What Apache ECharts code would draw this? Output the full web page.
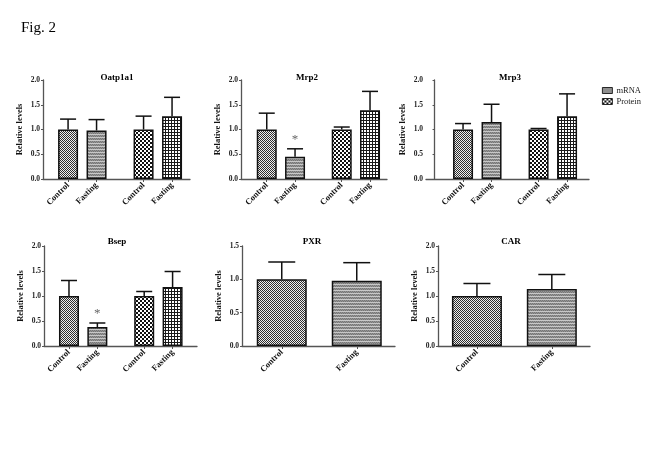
<!DOCTYPE html>
<html>
<head>
<meta charset="utf-8">
<script src="https://cdn.jsdelivr.net/npm/echarts@6/dist/echarts.min.js"></script>
<style>html,body{margin:0;padding:0;background:#fff}#c{width:650px;height:450px}</style>
</head>
<body>
<div id="c"></div>
<script>
// ---- data ----
const labels4 = ['Control', 'Fasting', 'Control', 'Fasting'];
const pos4 = [1, 2, 3.65, 4.65];
const labels2 = ['Control', 'Fasting'];
const pos2 = [1, 2];

const oatpMean = [1.00, 0.98, 1.00, 1.27];
const oatpErr  = [0.21, 0.22, 0.27, 0.38];
const mrp2Mean = [1.00, 0.45, 1.00, 1.39];
const mrp2Err  = [0.33, 0.16, 0.05, 0.38];
const mrp2Star = [0, 1, 0, 0];
const mrp3Mean = [1.00, 1.15, 1.00, 1.27];
const mrp3Err  = [0.12, 0.36, 0.02, 0.45];
const bsepMean = [1.00, 0.38, 1.00, 1.18];
const bsepErr  = [0.31, 0.08, 0.09, 0.31];
const bsepStar = [0, 1, 0, 0];
const pxrMean  = [1.00, 0.98];
const pxrErr   = [0.26, 0.27];
const carMean  = [1.00, 1.14];
const carErr   = [0.25, 0.29];
const noStar4 = [0, 0, 0, 0];
const noStar2 = [0, 0];

// ---- patterns ----
function pat(w, h, draw) {
  const c = document.createElement('canvas'); c.width = w; c.height = h;
  const g = c.getContext('2d'); draw(g); return { image: c, repeat: 'repeat' };
}
const pCtrlM = pat(2, 2, g => { g.fillStyle = '#eeeeee'; g.fillRect(0,0,2,2); g.fillStyle = '#2e2e2e'; g.fillRect(0,0,1,1); g.fillRect(1,1,1,1); });
const pFastM = pat(2, 3, g => { g.fillStyle = '#959595'; g.fillRect(0,0,2,3); g.fillStyle = '#767676'; g.fillRect(0,0,1,1); g.fillRect(1,1,1,1); g.fillStyle = '#c8c8c8'; g.fillRect(0,2,2,1); });
const pCtrlP = pat(4, 4, g => { g.fillStyle = '#fff'; g.fillRect(0,0,4,4); g.fillStyle = '#111'; g.fillRect(0,0,2,2); g.fillRect(2,2,2,2); });
const pFastP = pat(3, 3, g => { g.fillStyle = '#1a1a1a'; g.fillRect(0,0,3,3); g.fillStyle = '#fff'; g.fillRect(1,1,2,2); });

const FONT = 'Liberation Serif';
const panels = [
  { title: 'Oatp1a1', mean: oatpMean, err: oatpErr, star: noStar4, pos: pos4, labels: labels4, grid: [43, 80, 147, 99], min: 0.12, max: 5.28, ymax: 2, bw: 20, cap: 16, tx: 112, ty: 68 },
  { title: 'Mrp2', mean: mrp2Mean, err: mrp2Err, star: mrp2Star, pos: pos4, labels: labels4, grid: [241, 80, 146, 99], min: 0.09, max: 5.25, ymax: 2, bw: 20, cap: 16, tx: 302, ty: 68 },
  { title: 'Mrp3', mean: mrp3Mean, err: mrp3Err, star: noStar4, pos: pos4, labels: labels4, grid: [426, 80, 163, 99], min: -0.3, max: 5.42, ymax: 2, bw: 20, cap: 16, tx: 505, ty: 68 },
  { title: 'Bsep', mean: bsepMean, err: bsepErr, star: bsepStar, pos: pos4, labels: labels4, grid: [44, 246, 153, 100], min: 0.12, max: 5.51, ymax: 2, bw: 20, cap: 16, tx: 112, ty: 232 },
  { title: 'PXR', mean: pxrMean, err: pxrErr, star: noStar2, pos: pos2, labels: labels2, grid: [242, 246, 153, 100], min: 0.47, max: 2.51, ymax: 1.5, bw: 50, cap: 27, tx: 307, ty: 232 },
  { title: 'CAR', mean: carMean, err: carErr, star: noStar2, pos: pos2, labels: labels2, grid: [438, 246, 152, 100], min: 0.48, max: 2.51, ymax: 2, bw: 50, cap: 27, tx: 506, ty: 232 }
];

const option = {
  animation: false,
  backgroundColor: '#fff',
  title: [{ text: 'Fig. 2', left: 16, top: 16, textStyle: { fontFamily: FONT, fontSize: 15, fontWeight: 'normal', color: '#000' } }],
  legend: {
    data: ['mRNA', 'Protein'], orient: 'vertical', left: 597, top: 81, itemWidth: 10, itemHeight: 6, itemGap: 2,
    icon: 'rect',
    textStyle: { fontFamily: FONT, fontSize: 8.5, color: '#222', padding: [0, 0, 0, -1] },
    itemStyle: { borderColor: '#000', borderWidth: 0.8 }
  },
  grid: [], xAxis: [], yAxis: [], series: []
};

panels.forEach((p, i) => {
  option.title.push({ text: p.title, left: p.tx, top: p.ty, textAlign: 'center',
    textStyle: { fontFamily: FONT, fontSize: 9, fontWeight: 'bold', color: '#000' } });
  option.grid.push({ left: p.grid[0], top: p.grid[1], width: p.grid[2], height: p.grid[3] });
  const lab = {};
  p.pos.forEach((v, k) => lab[v] = p.labels[k]);
  option.xAxis.push({
    type: 'value', gridIndex: i, min: p.min, max: p.max,
    splitLine: { show: false },
    axisLine: { show: true, onZero: false, lineStyle: { color: '#555', width: 1.3 } },
    axisTick: { show: true, customValues: p.pos, length: 3, lineStyle: { color: '#555', width: 1 } },
    axisLabel: { customValues: p.pos, rotate: 45, margin: 5, formatter: v => lab[v] || '',
      fontFamily: FONT, fontSize: 8.5, fontWeight: 'bold', color: '#111' }
  });
  option.yAxis.push({
    type: 'value', gridIndex: i, min: 0, max: p.ymax, interval: 0.5,
    name: 'Relative levels', nameLocation: 'middle', nameGap: 19,
    nameTextStyle: { fontFamily: FONT, fontSize: 8.5, fontWeight: 'bold', color: '#111' },
    splitLine: { show: false },
    axisLine: { show: true, lineStyle: { color: '#555', width: 1.3 } },
    axisTick: { show: true, length: 2, lineStyle: { color: '#555' } },
    axisLabel: { formatter: v => v.toFixed(1), margin: 3, fontFamily: FONT, fontSize: 7.5, fontWeight: 'bold', color: '#222' }
  });
  const four = p.pos.length === 4;
  const mData = [], pData = [];
  p.pos.forEach((x, k) => {
    const isProt = four && k >= 2;
    const isFast = p.labels[k] === 'Fasting';
    const color = isProt ? (isFast ? pFastP : pCtrlP) : (isFast ? pFastM : pCtrlM);
    const item = { value: [x, p.mean[k]], itemStyle: { color: color } };
    (isProt ? pData : mData).push(item);
  });
  const bs = { borderColor: '#111', borderWidth: 1.5 };
  option.series.push({ type: 'bar', name: 'mRNA', xAxisIndex: i, yAxisIndex: i, barWidth: p.bw, barGap: '-100%', data: mData,
    itemStyle: Object.assign({ color: pCtrlM }, bs), z: 3 });
  if (four) option.series.push({ type: 'bar', name: 'Protein', xAxisIndex: i, yAxisIndex: i, barWidth: p.bw, barGap: '-100%', data: pData,
    itemStyle: Object.assign({ color: pCtrlP }, bs), z: 3 });
  option.series.push({
    type: 'custom', xAxisIndex: i, yAxisIndex: i, z: 2,
    data: p.pos.map((x, k) => [x, p.mean[k], p.err[k], p.star[k]]),
    renderItem: (params, api) => {
      const x = api.value(0), y = api.value(1), e = api.value(2), s = api.value(3);
      const a = api.coord([x, y]), b = api.coord([x, y + e]);
      const st = { stroke: '#111', lineWidth: 1.5 };
      const ch = [
        { type: 'line', shape: { x1: a[0], y1: a[1], x2: b[0], y2: b[1] }, style: st },
        { type: 'line', shape: { x1: b[0] - p.cap / 2, y1: b[1], x2: b[0] + p.cap / 2, y2: b[1] }, style: st }
      ];
      if (s) ch.push({ type: 'text', style: { text: '*', x: b[0], y: b[1] - 3, textAlign: 'center', textVerticalAlign: 'bottom',
        fontFamily: FONT, fontSize: 13, fill: '#666' } });
      return { type: 'group', children: ch };
    }
  });
});

const chart = echarts.init(document.getElementById('c'), null, { renderer: 'canvas' });
chart.setOption(option);
</script>
</body>
</html>
